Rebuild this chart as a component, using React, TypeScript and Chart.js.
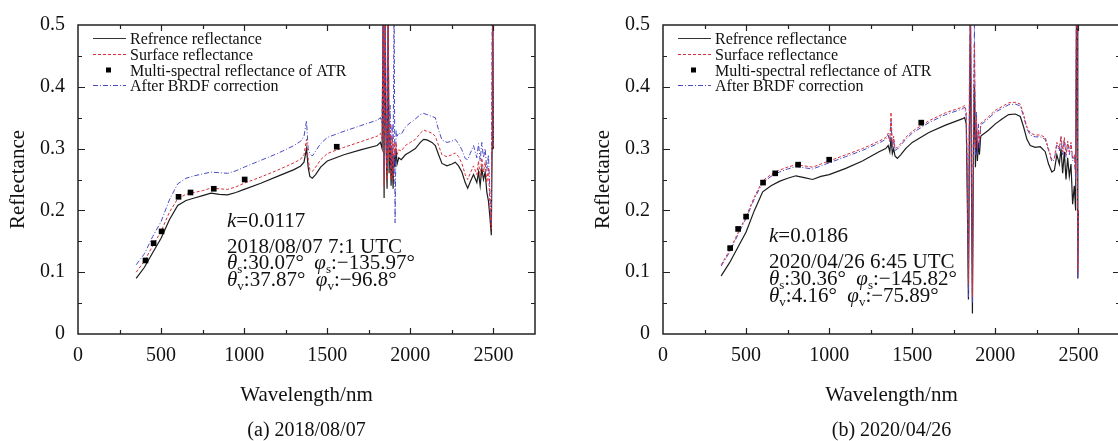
import React, { useEffect, useRef } from 'react';
import { Chart, registerables } from 'chart.js';
Chart.register(...registerables);

const FONT = '"Liberation Serif", "DejaVu Serif", serif';

// ---------- Panel (a) 2018/08/07 ----------
const wlA = [350, 400, 450, 500, 550, 600, 650, 700, 750, 800,
  850, 900, 950, 1000, 1100, 1200, 1300, 1340, 1360, 1375,
  1385, 1395, 1410, 1430, 1460, 1500, 1600, 1700, 1800, 1820,
  1830, 1836, 1842, 1848, 1854, 1860, 1866, 1872, 1878, 1884, 1890, 1896, 1902, 1908, 1914, 1920,
  1930, 1945, 1970, 2000,
  2030, 2060, 2080, 2100, 2130, 2150, 2170, 2190, 2220, 2250,
  2270, 2290, 2310, 2330, 2345, 2360, 2380, 2400, 2410, 2420,
  2430, 2440, 2450, 2460, 2470, 2480, 2487, 2492, 2496, 2500];
const refA = [0.090, 0.108, 0.132, 0.155, 0.185, 0.208, 0.216, 0.220, 0.224, 0.228,
  0.226, 0.225, 0.229, 0.234, 0.244, 0.255, 0.266, 0.272, 0.278, 0.300,
  0.270, 0.255, 0.252, 0.258, 0.270, 0.280, 0.290, 0.298, 0.305, 0.310,
  0.300, 0.52, 0.22, 0.52, 0.30, 0.235, 0.52, 0.26, 0.32, 0.24, 0.30, 0.235, 0.29, 0.27, 0.30, 0.275,
  0.285, 0.282, 0.290, 0.295,
  0.300, 0.310, 0.315, 0.314, 0.310, 0.305, 0.290, 0.276, 0.272, 0.275,
  0.278, 0.272, 0.262, 0.245, 0.236, 0.246, 0.258, 0.245, 0.262, 0.240,
  0.268, 0.250, 0.262, 0.230, 0.215, 0.185, 0.160, 0.30, 0.55, 0.30];
const surfA = [0.100, 0.118, 0.143, 0.166, 0.197, 0.219, 0.226, 0.229, 0.232, 0.236,
  0.235, 0.234, 0.238, 0.244, 0.254, 0.265, 0.277, 0.283, 0.290, 0.315,
  0.283, 0.266, 0.263, 0.270, 0.282, 0.292, 0.302, 0.311, 0.320, 0.325,
  0.315, 0.50, 0.24, 0.55, 0.33, 0.25, 0.55, 0.28, 0.34, 0.25, 0.32, 0.25, 0.31, 0.29, 0.31, 0.29,
  0.298, 0.296, 0.305, 0.310,
  0.315, 0.325, 0.330, 0.328, 0.325, 0.320, 0.305, 0.290, 0.287, 0.290,
  0.293, 0.287, 0.276, 0.258, 0.250, 0.260, 0.272, 0.258, 0.280, 0.255,
  0.285, 0.262, 0.278, 0.245, 0.270, 0.200, 0.170, 0.45, 0.55, 0.30];
const brdfA = [0.112, 0.130, 0.158, 0.182, 0.217, 0.243, 0.252, 0.256, 0.259, 0.262,
  0.261, 0.260, 0.264, 0.270, 0.281, 0.292, 0.305, 0.312, 0.320, 0.345,
  0.300, 0.292, 0.288, 0.296, 0.308, 0.318, 0.328, 0.337, 0.346, 0.350,
  0.34, 0.55, 0.26, 0.55, 0.36, 0.27, 0.55, 0.30, 0.37, 0.27, 0.34, 0.26, 0.55, 0.18, 0.33, 0.32,
  0.325, 0.323, 0.335, 0.342,
  0.348, 0.355, 0.357, 0.355, 0.352, 0.350, 0.330, 0.314, 0.310, 0.312,
  0.315, 0.308, 0.298, 0.284, 0.282, 0.292, 0.305, 0.285, 0.308, 0.280,
  0.310, 0.285, 0.300, 0.265, 0.290, 0.220, 0.180, 0.50, 0.55, 0.30];
const atrWlA = [406, 455, 503, 605, 677, 817, 1003, 1557];
const atrA = [0.119, 0.147, 0.166, 0.222, 0.229, 0.235, 0.250, 0.303];

// ---------- Panel (b) 2020/04/26 ----------
const wlB = [350, 400, 450, 500, 550, 600, 650, 700, 750, 800,
  850, 900, 950, 1000, 1100, 1200, 1300, 1340, 1355, 1365,
  1372, 1380, 1388, 1396, 1410, 1430, 1460, 1500, 1600, 1700,
  1800, 1815, 1825, 1832, 1838, 1844, 1850, 1856, 1862, 1868, 1874, 1880, 1886, 1892, 1898, 1904,
  1912, 1920, 1935, 1960,
  2000, 2040, 2080, 2120, 2150, 2170, 2190, 2210, 2240, 2270,
  2300, 2320, 2340, 2355, 2370, 2385, 2395, 2405, 2415, 2425,
  2435, 2445, 2455, 2465, 2475, 2483, 2488, 2492, 2496, 2500];
const refB = [0.094, 0.115, 0.140, 0.165, 0.200, 0.230, 0.240, 0.247, 0.252, 0.256,
  0.253, 0.250, 0.255, 0.258, 0.268, 0.280, 0.295, 0.300, 0.305, 0.295,
  0.318, 0.292, 0.300, 0.288, 0.284, 0.290, 0.300, 0.310, 0.326, 0.338,
  0.348, 0.350, 0.34, 0.20, 0.056, 0.32, 0.52, 0.25, 0.033, 0.30, 0.40, 0.27, 0.33, 0.28, 0.31, 0.29,
  0.320, 0.322, 0.325, 0.330,
  0.340, 0.348, 0.355, 0.356, 0.352, 0.335, 0.315, 0.305, 0.302, 0.303,
  0.295, 0.275, 0.262, 0.265, 0.290, 0.275, 0.300, 0.260, 0.295, 0.250,
  0.285, 0.255, 0.275, 0.210, 0.240, 0.200, 0.52, 0.55, 0.09, 0.20];
const surfB = [0.112, 0.135, 0.163, 0.190, 0.222, 0.248, 0.258, 0.265, 0.270, 0.274,
  0.272, 0.270, 0.275, 0.280, 0.290, 0.300, 0.312, 0.318, 0.325, 0.312,
  0.359, 0.305, 0.320, 0.300, 0.302, 0.308, 0.318, 0.328, 0.345, 0.358,
  0.367, 0.370, 0.36, 0.25, 0.08, 0.40, 0.55, 0.30, 0.06, 0.34, 0.47, 0.30, 0.35, 0.30, 0.33, 0.31,
  0.340, 0.343, 0.346, 0.352,
  0.362, 0.368, 0.374, 0.375, 0.372, 0.355, 0.335, 0.325, 0.322, 0.322,
  0.318, 0.300, 0.282, 0.285, 0.310, 0.300, 0.320, 0.295, 0.318, 0.290,
  0.312, 0.295, 0.310, 0.285, 0.290, 0.260, 0.50, 0.55, 0.10, 0.20];
const brdfB = [0.110, 0.132, 0.160, 0.187, 0.219, 0.245, 0.255, 0.262, 0.267, 0.271,
  0.269, 0.267, 0.272, 0.277, 0.287, 0.297, 0.309, 0.315, 0.322, 0.310,
  0.345, 0.300, 0.316, 0.297, 0.299, 0.305, 0.315, 0.325, 0.342, 0.355,
  0.364, 0.367, 0.35, 0.22, 0.06, 0.42, 0.55, 0.28, 0.05, 0.35, 0.50, 0.29, 0.36, 0.29, 0.34, 0.30,
  0.337, 0.340, 0.343, 0.349,
  0.359, 0.365, 0.371, 0.372, 0.369, 0.352, 0.332, 0.322, 0.319, 0.319,
  0.315, 0.297, 0.279, 0.282, 0.306, 0.296, 0.318, 0.290, 0.315, 0.286,
  0.309, 0.290, 0.306, 0.280, 0.287, 0.250, 0.55, 0.55, 0.09, 0.20];
const atrWlB = [404, 452, 500, 602, 675, 813, 1000, 1554];
const atrB = [0.139, 0.170, 0.190, 0.245, 0.260, 0.274, 0.282, 0.342];

const legendLabels = ['Refrence reflectance', 'Surface reflectance', 'Multi-spectral reflectance of ATR', 'After BRDF correction'];
const xTitle = 'Wavelength/nm';
const yTitle = 'Reflectance';

type Seg = { t: string; i?: boolean; sub?: boolean };

const panelA = {
  wl: wlA, ref: refA, surf: surfA, brdf: brdfA, pwl: atrWlA, pv: atrA,
  caption: '(a) 2018/08/07',
  note: [
    [{ t: 'k', i: true }, { t: '=0.0117' }],
    [{ t: '2018/08/07 7:1 UTC' }],
    [{ t: 'θ', i: true }, { t: 's', sub: true }, { t: ':30.07°  ' }, { t: 'φ', i: true }, { t: 's', sub: true }, { t: ':−135.97°' }],
    [{ t: 'θ', i: true }, { t: 'v', sub: true }, { t: ':37.87°  ' }, { t: 'φ', i: true }, { t: 'v', sub: true }, { t: ':−96.8°' }],
  ] as Seg[][],
  noteX: 227, noteY: [227, 253, 269, 286],
};
const panelB = {
  wl: wlB, ref: refB, surf: surfB, brdf: brdfB, pwl: atrWlB, pv: atrB,
  caption: '(b) 2020/04/26',
  note: [
    [{ t: 'k', i: true }, { t: '=0.0186' }],
    [{ t: '2020/04/26 6:45 UTC' }],
    [{ t: 'θ', i: true }, { t: 's', sub: true }, { t: ':30.36°  ' }, { t: 'φ', i: true }, { t: 's', sub: true }, { t: ':−145.82°' }],
    [{ t: 'θ', i: true }, { t: 'v', sub: true }, { t: ':4.16°  ' }, { t: 'φ', i: true }, { t: 'v', sub: true }, { t: ':−75.89°' }],
  ] as Seg[][],
  noteX: 184, noteY: [242, 268, 285, 302],
};

const BLACK = '#1c1c1c';
const RED = '#d8303a';
const BLUE = '#4a4ac4';

function Panel({ p, left }: { p: typeof panelA; left: number }) {
  const ref = useRef<HTMLCanvasElement>(null);
  useEffect(() => {
    const mk = (xs: number[], ys: number[]) => xs.map((x, i) => ({ x, y: ys[i] }));
    const deco = {
      id: 'deco',
      afterDraw(chart: any) {
        const ctx = chart.ctx as CanvasRenderingContext2D;
        const a = chart.chartArea;
        const xs = chart.scales.x;
        const ys = chart.scales.y;
        ctx.save();
        ctx.strokeStyle = '#222';
        ctx.lineWidth = 1.5;
        ctx.strokeRect(a.left, a.top, a.right - a.left, a.bottom - a.top);
        ctx.lineWidth = 1.2;
        ctx.beginPath();
        xs.ticks.forEach((t: any) => {
          const v = t.value;
          if (v <= 0 || v >= 2750) return;
          const px = Math.round(xs.getPixelForValue(v)) + 0.5;
          const len = v % 500 === 0 ? 6 : 4;
          ctx.moveTo(px, a.bottom); ctx.lineTo(px, a.bottom - len);
          ctx.moveTo(px, a.top); ctx.lineTo(px, a.top + len);
        });
        ys.ticks.forEach((t: any) => {
          const v = t.value;
          if (v <= 0.001 || v >= 0.499) return;
          const py = Math.round(ys.getPixelForValue(v)) + 0.5;
          const len = Math.round(v * 100) % 10 === 0 ? 7 : 4;
          ctx.moveTo(a.left, py); ctx.lineTo(a.left + len, py);
          ctx.moveTo(a.right, py); ctx.lineTo(a.right - len, py);
        });
        ctx.stroke();

        // legend
        ctx.font = `16px ${FONT}`;
        ctx.textBaseline = 'middle';
        ctx.textAlign = 'left';
        const lx0 = 93, lx1 = 126, tx = 130;
        legendLabels.forEach((lab, i) => {
          const y = Math.round(38 + i * 15.8) + 0.5;
          ctx.lineWidth = 1;
          ctx.setLineDash([]);
          if (i === 0) { ctx.strokeStyle = '#333'; ctx.lineWidth = 1.2; }
          if (i === 1) { ctx.strokeStyle = RED; ctx.setLineDash([3, 2]); }
          if (i === 3) { ctx.strokeStyle = BLUE; ctx.setLineDash([5, 2, 1, 2]); }
          if (i === 2) {
            ctx.fillStyle = '#000';
            ctx.fillRect(106, y - 3, 5, 5);
          } else {
            ctx.beginPath(); ctx.moveTo(lx0, y); ctx.lineTo(lx1, y); ctx.stroke();
          }
          ctx.setLineDash([]);
          ctx.fillStyle = '#111';
          ctx.fillText(lab, tx, y + 1);
        });

        // annotation
        ctx.textBaseline = 'alphabetic';
        p.note.forEach((line, li) => {
          let x = p.noteX;
          const y = p.noteY[li];
          line.forEach((s) => {
            ctx.font = s.sub ? `13px ${FONT}` : `${s.i ? 'italic ' : ''}21px ${FONT}`;
            ctx.fillText(s.t, x, s.sub ? y + 4 : y);
            x += ctx.measureText(s.t).width;
          });
        });

        // titles
        const cx = (a.left + a.right) / 2;
        ctx.textAlign = 'center';
        ctx.textBaseline = 'middle';
        ctx.font = `21px ${FONT}`;
        ctx.fillText(xTitle, cx, 395);
        ctx.font = `20px ${FONT}`;
        ctx.fillText(p.caption, cx, 431);
        ctx.save();
        ctx.translate(18, (a.top + a.bottom) / 2);
        ctx.rotate(-Math.PI / 2);
        ctx.font = `21px ${FONT}`;
        ctx.fillText(yTitle, 0, 0);
        ctx.restore();
        ctx.restore();
      },
    };
    const chart = new Chart(ref.current as HTMLCanvasElement, {
      type: 'line',
      data: {
        datasets: [
          { label: legendLabels[2], data: mk(p.pwl, p.pv), showLine: false, pointStyle: 'rect', pointRadius: 4, backgroundColor: '#000', borderColor: '#000', borderWidth: 0, order: 0 },
          { label: legendLabels[0], data: mk(p.wl, p.ref), borderColor: BLACK, borderWidth: 1.2, pointRadius: 0, order: 3 },
          { label: legendLabels[1], data: mk(p.wl, p.surf), borderColor: RED, borderWidth: 1, borderDash: [3, 2], pointRadius: 0, order: 1 },
          { label: legendLabels[3], data: mk(p.wl, p.brdf), borderColor: BLUE, borderWidth: 1, borderDash: [5, 2, 1, 2], pointRadius: 0, order: 2 },
        ] as any,
      },
      options: {
        animation: false,
        responsive: false,
        events: [],
        layout: { padding: { left: 0, top: 15, right: 25, bottom: 0 } },
        plugins: { legend: { display: false }, tooltip: { enabled: false } },
        scales: {
          x: {
            type: 'linear', min: 0, max: 2750,
            grid: { display: false, drawTicks: false },
            border: { display: false },
            ticks: {
              stepSize: 250, autoSkip: false, maxRotation: 0, padding: 10,
              color: '#111', font: { family: FONT, size: 20 },
              callback: (v: any) => (Number(v) % 500 === 0 && Number(v) <= 2500 ? String(v) : ''),
            },
            afterFit: (s: any) => { s.height = 107; },
          },
          y: {
            type: 'linear', min: 0, max: 0.5,
            grid: { display: false, drawTicks: false },
            border: { display: false },
            ticks: {
              stepSize: 0.05, autoSkip: false, padding: 13,
              color: '#111', font: { family: FONT, size: 20 },
              callback: (v: any) => {
                const r = Math.round(Number(v) * 100);
                return r % 10 === 0 ? String(r / 100) : '';
              },
            },
            afterFit: (s: any) => { s.width = 78; },
          },
        },
      } as any,
      plugins: [deco],
    });
    return () => chart.destroy();
  }, [p]);
  return (
    <canvas ref={ref} width={560} height={441}
      style={{ position: 'absolute', left, top: 0, width: 560, height: 441 }} />
  );
}

export default function App() {
  return (
    <div style={{ position: 'absolute', left: 0, top: 0, width: 1118, height: 441, overflow: 'hidden', background: '#fff' }}>
      <Panel p={panelA} left={0} />
      <Panel p={panelB} left={585} />
    </div>
  );
}
